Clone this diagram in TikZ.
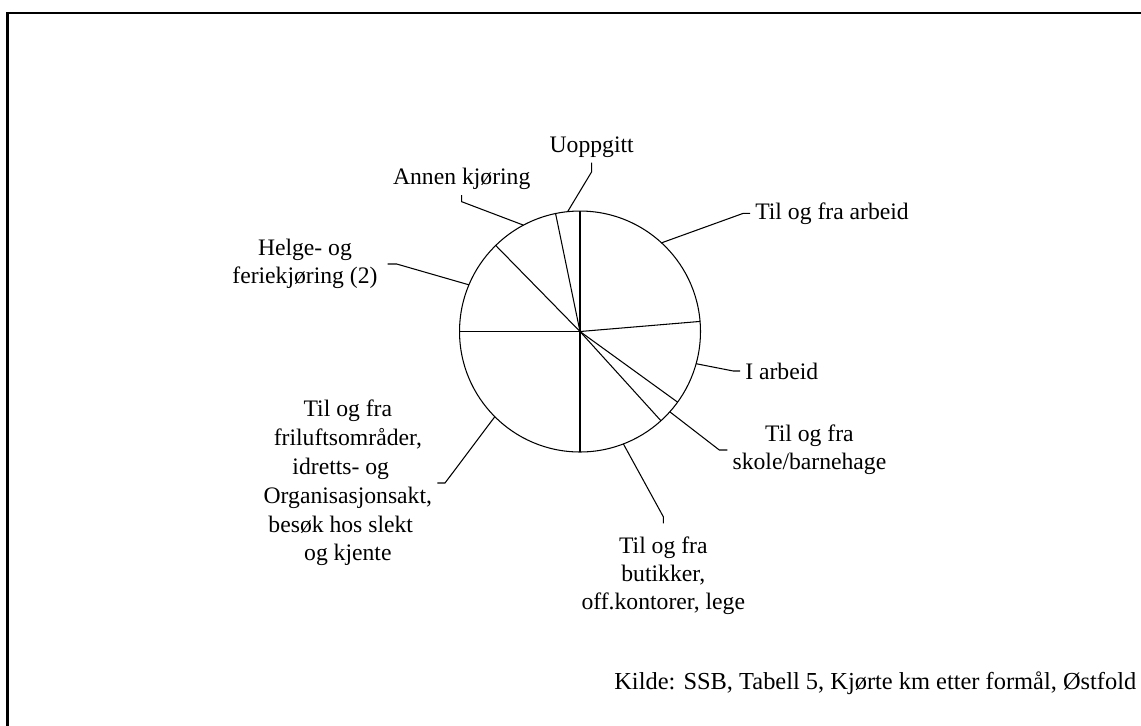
\documentclass[tikz,border=0pt]{standalone}
\usepackage{fontspec}
\setmainfont{Liberation Serif}

\begin{document}
\begin{tikzpicture}[x=0.02cm,y=-0.02cm,
  lbl/.style={inner sep=2.8pt,align=center,font=\fontsize{13.46}{15.9}\selectfont},
  pieline/.style={line width=0.6pt}]
\useasboundingbox (0,0) rectangle (1141,725);
\clip (0,0) rectangle (1141,725);
\draw[line width=1.2pt] (7.5,12.7) rectangle (1170,750); % frame
\coordinate (c) at (580,331.5);
\draw[pieline] (c) circle[radius=2.41cm];
\foreach \a in {90,4.8,-35.9,-47.8,-90,180,134.4,101.7} % slice borders
\draw[pieline] (c) -- +(\a:2.41cm);
\foreach \nm/\ang/\bx/\by in {arb/47.4/743.3/213.3, iarb/-15.5/733.3/371, sko/-41.8/719.3/450,
  but/-68.9/663.3/516.7, fri/-135/445/483, hel/157.2/396.7/264, ann/118/461.7/201.7, uop/95.9/591.7/171.7}
{\coordinate (e-\nm) at ([shift={(\ang:2.41cm)}]c);
 \coordinate (k-\nm) at (\bx,\by);}
% labels
\node[lbl,anchor=west] (arb) at (750,213.3) {Til og fra arbeid};
\node[lbl,anchor=west] (iarb) at (740,371) {I arbeid};
\node[lbl,anchor=west] (sko) at (727.3,450) {Til og fra\\skole/barnehage};
\node[lbl,anchor=north,outer sep=5pt] (but) at (663.3,523.3) {Til og fra\\butikker,\\off.kontorer, lege};
\node[lbl,anchor=east,font=\fontsize{13.46}{16.4}\selectfont] (fri) at (437.3,483) {Til og fra\\friluftsområder,\\idretts- og\kern.6em\\Organisasjonsakt,\\besøk hos slekt\kern.6em\\og kjente};
\node[lbl,anchor=east,outer sep=3pt] (hel) at (387.7,264) {Helge- og\\feriekjøring (2)};
\node[lbl,anchor=south] (ann) at (461.7,195) {Annen kjøring};
\node[lbl,anchor=south] (uop) at (591.7,162.7) {Uoppgitt};
\node[lbl,anchor=east,font=\fontsize{13.9}{16}\selectfont] (kilde) at (1141.5,683) {Kilde: SSB, Tabell 5, Kjørte km etter formål, Østfold};
% leader lines
\foreach \nm/\anc in {arb/west, iarb/west, sko/west, but/north, fri/east, hel/east, ann/south, uop/south}
\draw[pieline] (e-\nm) -- (k-\nm) -- (\nm.\anc);
\end{tikzpicture}
\end{document}
